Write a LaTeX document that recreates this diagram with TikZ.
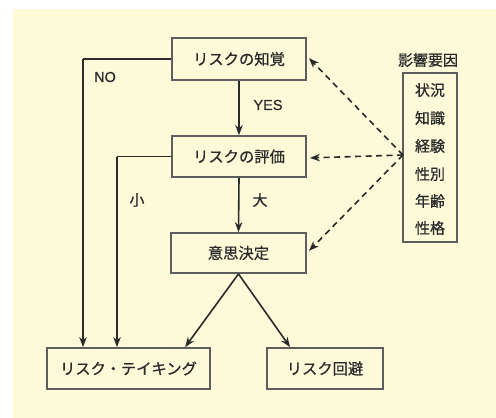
\documentclass[tikz,border=0pt]{standalone}
\usepackage{fontspec}
\setmainfont{Noto Sans CJK JP}[FakeBold=0.7]
\newfontfamily\latinfont{Liberation Sans}[FakeBold=0.5]
\usetikzlibrary{arrows.meta,calc}
\definecolor{cream}{HTML}{FDFADA}
\definecolor{ink}{HTML}{2A2A2A}
\definecolor{frame}{HTML}{5E5E5E}
\tikzset{
  box/.style={draw=frame, line width=1.8pt, fill=cream, text=ink, font=\fontsize{15.3}{17}\selectfont, inner sep=0pt},
  conn/.style={draw=ink, line width=1.6pt, -{Stealth[length=10pt,width=7.5pt]}},
  plain/.style={draw=ink, line width=1.6pt},
  dashconn/.style={draw=ink, line width=1.6pt, dash pattern=on 6pt off 4.5pt, -{Stealth[length=10pt,width=7.5pt]}, shorten >=3pt},
  lbl/.style={text=ink, font=\fontsize{15}{17}\selectfont, inner sep=0pt},
  latlbl/.style={text=ink, font=\latinfont\fontsize{14.5}{17}\selectfont, inner sep=0pt},
}
\begin{document}
\begin{tikzpicture}[x=1pt,y=-1pt]
\useasboundingbox (0,0) rectangle (496,418);
\fill[white] (0,0) rectangle (496,418);
\fill[cream] (13,9) rectangle (496,418);

\node[box, minimum width=134pt, minimum height=42pt] (b1) at (239,59) {リスクの知覚};
\node[box, minimum width=134pt, minimum height=41pt] (b2) at (239,156.5) {リスクの評価};
\node[box, minimum width=135pt, minimum height=40pt] (b3) at (238.5,253) {意思決定};
\node[box, minimum width=163pt, minimum height=41pt] (b4) at (128.5,368.5) {リスク・テイキング};
\node[box, minimum width=116pt, minimum height=41pt] (b5) at (325,368.5) {リスク回避};
\node[box, minimum width=54pt, minimum height=169pt] (b6) at (430,157.5) {};

\node[lbl] (inf) at (428,60) {影響要因};
\node[lbl] (f1) at (430,90) {状況};
\node[lbl] (f2) at (430,118) {知識};
\node[lbl] (f3) at (430,146) {経験};
\node[lbl] (f4) at (430,174) {性別};
\node[lbl] (f5) at (430,201) {年齢};
\node[lbl] (f6) at (430,228) {性格};

\coordinate (noc) at (83,59);
\coordinate (smc) at (117,156.5);
\draw[plain] (b1.west) -- (noc);
\draw[conn] (noc) -- (noc |- b4.north);
\draw[plain] (b2.west) -- (smc);
\draw[conn] (smc) -- (smc |- b4.north);
\draw[conn] (b1.south) -- (b2.north);
\draw[conn] (b2.south) -- (b3.north);
\draw[conn] (b3.south) -- ([xshift=139pt]b4.north west);
\draw[conn] (b3.south) -- ([xshift=24pt]b5.north west);

\coordinate (src) at (403,155);
\draw[dashconn] (src) -- ([yshift=3pt]b1.east);
\draw[dashconn] (src) -- ([yshift=-1.5pt]b2.east);
\draw[dashconn] (src) -- (b3.east);

\node[latlbl] (no) at (105,77) {NO};
\node[latlbl] (yes) at (268,105) {YES};
\node[lbl] (sm) at (137,200) {小};
\node[lbl] (lg) at (260,200) {大};
\end{tikzpicture}
\end{document}
